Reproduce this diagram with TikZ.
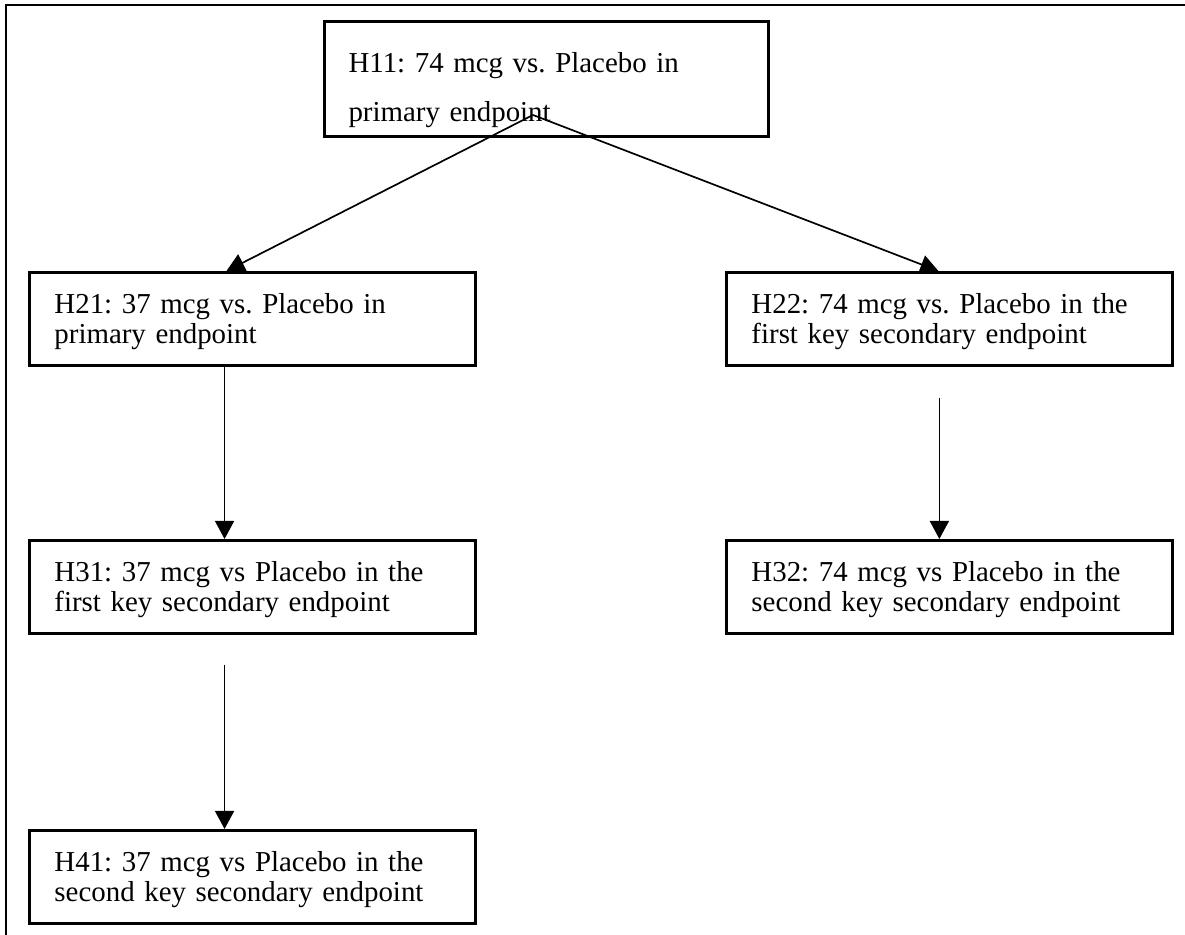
\documentclass[tikz,border=0pt]{standalone}
\usepackage{fontspec}
\setmainfont{Liberation Serif}
\usetikzlibrary{arrows.meta}
\frenchspacing
\begin{document}
\begin{tikzpicture}[x=0.4154pt, y=-0.4154pt,
    hypbox/.style={draw, line width=1.2pt, anchor=north west, align=left,
        text width=164.5pt, inner xsep=10.4pt, inner ysep=0pt,
        text height=17pt, text depth=21.6pt,
        font=\fontsize{12pt}{12.5pt}\selectfont},
    topbox/.style={hypbox, inner xsep=10pt, text height=21.2pt, text depth=26.6pt,
        font=\fontsize{12pt}{20.4pt}\selectfont},
    hyparrow/.style={-{Triangle[length=7.5pt,width=7.9pt]}, line width=0.7pt}]
    \useasboundingbox (0,0) rectangle (1185,935);
    \draw [line width=1.2pt] (6,935) -- (6,5) -- (1185,5);
    \node [topbox] (h11) at (323,20) {H11: 74 mcg vs. Placebo in\\primary endpoint};
    \node [hypbox] (h21) at (28,271) {H21: 37 mcg vs. Placebo in\\primary endpoint};
    \node [hypbox] (h22) at (725,271) {H22: 74 mcg vs. Placebo in the\\first key secondary endpoint};
    \node [hypbox] (h31) at (28,539) {H31: 37 mcg vs Placebo in the\\first key secondary endpoint};
    \node [hypbox] (h32) at (725,539) {H32: 74 mcg vs Placebo in the\\second key secondary endpoint};
    \node [hypbox] (h41) at (28,829) {H41: 37 mcg vs Placebo in the\\second key secondary endpoint};
    \coordinate (fork) at (533,115);
    \draw [hyparrow] (fork) -- ([xshift=-10.8pt]h21.north);
    \draw [hyparrow] (fork) -- ([xshift=-4.6pt]h22.north);
    \draw [hyparrow] ([xshift=-11.6pt]h21.south) -- ([xshift=-11.6pt]h31.north);
    \draw [hyparrow] ([xshift=-11.6pt,yshift=-12.5pt]h31.south) -- ([xshift=-11.6pt]h41.north);
    \draw [hyparrow] ([xshift=-4.2pt,yshift=-12.9pt]h22.south) -- ([xshift=-4.2pt]h32.north);
\end{tikzpicture}
\end{document}
